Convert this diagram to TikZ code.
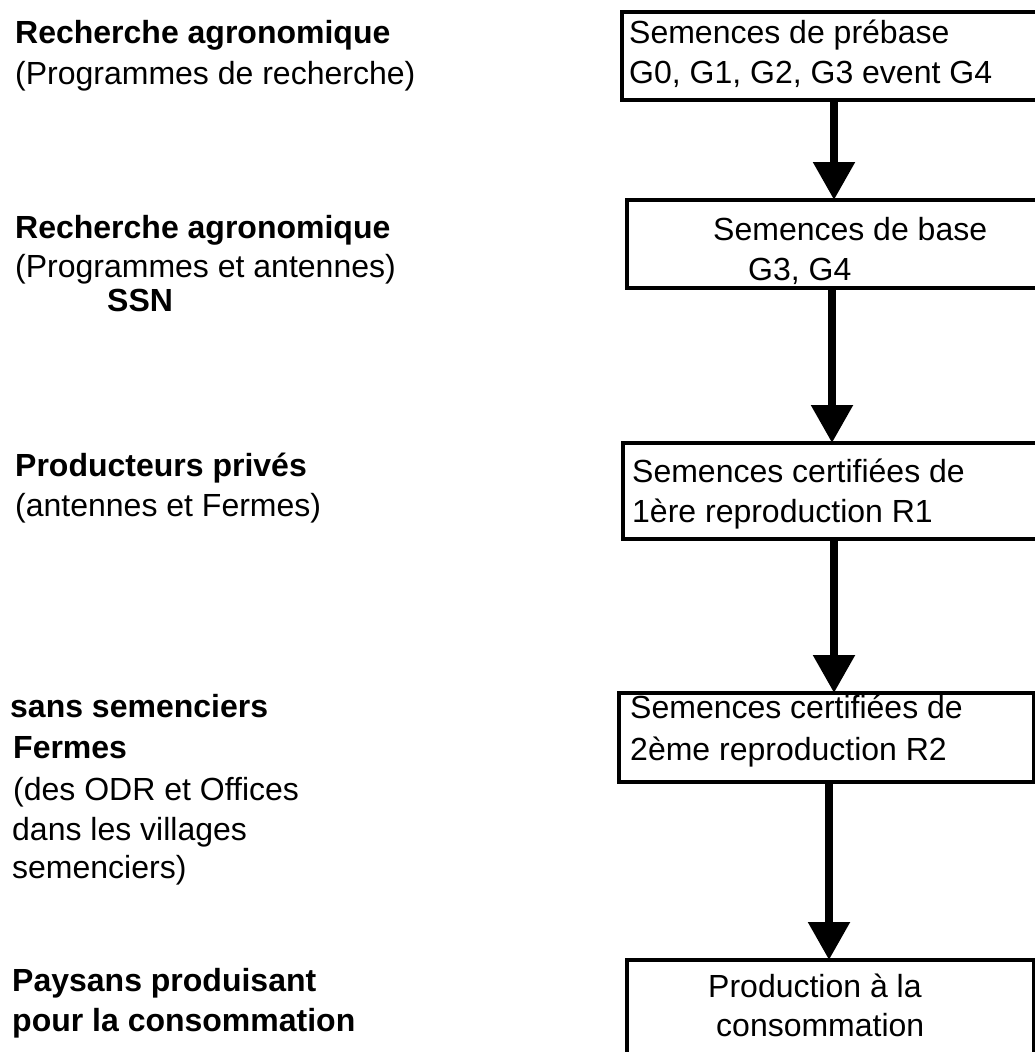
\documentclass[tikz,border=0pt]{standalone}
\usepackage{fontspec}
\setmainfont{Liberation Sans}
\usetikzlibrary{arrows.meta}
\begin{document}
\begin{tikzpicture}[x=1pt,y=-1pt,
  box/.style={draw, line width=4pt, inner sep=0pt, outer sep=0pt, anchor=north west},
  txt/.style={inner sep=0pt, anchor=base west, font=\fontsize{32}{38}\selectfont},
  btxt/.style={inner sep=0pt, anchor=base west, font=\fontsize{32}{38}\selectfont\bfseries},
  arr/.style={line width=8.5pt, -{Triangle[width=40pt,length=38pt]}}]
\clip (0,0) rectangle (1035,1052);
\fill[white] (0,0) rectangle (1035,1052);
% boxes
\node[box, minimum width=423pt, minimum height=88pt] (b1) at (622,12) {};
\node[box, minimum width=418pt, minimum height=88pt] (b2) at (627,200) {};
\node[box, minimum width=422pt, minimum height=96pt] (b3) at (623,443) {};
\node[box, minimum width=415pt, minimum height=89pt] (b4) at (619,693) {};
\node[box, minimum width=407pt, minimum height=130pt] (b5) at (627,960) {};
% arrows
\draw[arr] (b1.south -| 834,0) -- (b2.north -| 834,0);
\draw[arr] (b2.south -| 832,0) -- (b3.north -| 832,0);
\draw[arr] (b3.south -| 834,0) -- (b4.north -| 834,0);
\draw[arr] (b4.south -| 829,0) -- (b5.north -| 829,0);
% box texts
\node[txt] (t1a) at (629,43) {Semences de prébase};
\node[txt] (t1b) at (629,83) {G0, G1, G2, G3 event G4};
\node[txt] (t2a) at (713,240) {Semences de base};
\node[txt] (t2b) at (748,280) {G3, G4};
\node[txt] (t3a) at (632,482) {Semences certifiées de};
\node[txt] (t3b) at (632,522) {1ère reproduction R1};
\node[txt] (t4a) at (630,718) {Semences certifiées de};
\node[txt] (t4b) at (630,760) {2ème reproduction R2};
\node[txt] (t5a) at (708,997) {Production à la};
\node[txt] (t5b) at (716,1036) {consommation};
% left texts
\node[btxt] (l1a) at (15,43) {Recherche agronomique};
\node[txt]  (l1b) at (15,84) {(Programmes de recherche)};
\node[btxt] (l2a) at (15,238) {Recherche agronomique};
\node[txt]  (l2b) at (15,277) {(Programmes et antennes)};
\node[btxt] (l2c) at (107,311) {SSN};
\node[btxt] (l3a) at (15,476) {Producteurs privés};
\node[txt]  (l3b) at (15,516) {(antennes et Fermes)};
\node[btxt] (l4a) at (10,717) {sans semenciers};
\node[btxt] (l4b) at (13,758) {Fermes};
\node[txt]  (l4c) at (13,800) {(des ODR et Offices};
\node[txt]  (l4d) at (12,840) {dans les villages};
\node[txt]  (l4e) at (12,878) {semenciers)};
\node[btxt] (l5a) at (12,991) {Paysans produisant};
\node[btxt] (l5b) at (12,1031) {pour la consommation};
\end{tikzpicture}
\end{document}
